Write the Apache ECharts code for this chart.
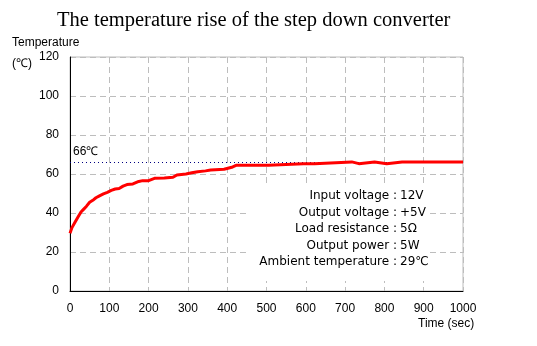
<!DOCTYPE html>
<html><head><meta charset="utf-8">
<script src="https://cdn.jsdelivr.net/npm/echarts@6/dist/echarts.min.js"></script>
<style>html,body{margin:0;padding:0;background:#fff}#c{width:537px;height:346px}</style>
</head><body><div id="c"></div>
<script>
const titleText = 'The temperature rise of the step down converter';
const yTicks = [0, 20, 40, 60, 80, 100, 120];
const xTicks = [0, 100, 200, 300, 400, 500, 600, 700, 800, 900, 1000];
const times = [0, 5, 12, 20, 28, 35, 42, 50, 58, 66, 75, 85, 95, 105, 115, 125, 135, 145, 160, 175, 185, 200, 215, 240, 262, 272, 295, 310, 325, 345, 358, 392, 414, 424, 505, 509, 594, 597, 602, 622, 627, 717, 722, 735, 740, 775, 779, 806, 810, 845, 848, 853, 965, 969, 973, 1000];
const temps = [29.6, 32.5, 35, 37.8, 40.5, 42, 43.5, 45.5, 46.5, 47.8, 48.8, 49.8, 50.6, 51.6, 52.3, 52.6, 53.8, 54.6, 54.9, 56.2, 56.6, 56.6, 57.8, 57.9, 58.3, 59.5, 60, 60.6, 61.2, 61.6, 62.1, 62.4, 63.6, 64.5, 64.5, 65.3, 65.3, 66.3, 65.3, 65.3, 66.2, 66.2, 65.3, 65.3, 66.2, 66.2, 65.3, 65.3, 66.2, 66.2, 67.1, 66.2, 66.2, 67.1, 66.2, 66.2];
const refLevel = 66;
const refLabel = '66℃';
const noteLabels = ['Input voltage :', 'Output voltage :', 'Load resistance :', 'Output power :', 'Ambient temperature :'];
const noteValues = ['12V', '+5V', '5Ω', '5W', '29℃'];

const font = 'Liberation Sans, Arial, sans-serif';
const noteFont = 'DejaVu Sans, sans-serif';
const chart = echarts.init(document.getElementById('c'), null, {renderer: 'canvas'});
const data = times.map((t, i) => [t, temps[i]]);

const graphics = [
  {type: 'text', left: 12, top: 37, style: {text: 'Temperature', font: '12px ' + font, fill: '#000'}},
  {type: 'text', left: 12, top: 58, style: {text: '(℃)', font: '12px ' + font, fill: '#000'}},
  {type: 'text', left: 418, top: 318, style: {text: 'Time (sec)', font: '12px ' + font, fill: '#000'}},
  {type: 'rect', shape: {x: 249, y: 185, width: 179, height: 96}, style: {fill: '#fff'}, z: 50}
];
noteLabels.forEach((s, i) => {
  const y = 196 + i * 16.5;
  graphics.push({type: 'text', x: 397, y: y, z: 60, style: {text: s, font: '12px ' + noteFont, fill: '#000', align: 'right', verticalAlign: 'middle'}});
  graphics.push({type: 'text', x: 400, y: y, z: 60, style: {text: noteValues[i], font: '12px ' + noteFont, fill: '#000', align: 'left', verticalAlign: 'middle'}});
});

chart.setOption({
  animation: false,
  backgroundColor: '#fff',
  title: {text: titleText, left: 57, top: 10, padding: 0, textStyle: {fontFamily: 'Liberation Serif, Times New Roman, serif', fontSize: 20.5, fontWeight: 'normal', color: '#000'}},
  grid: {left: 70, right: 74, top: 57, bottom: 55, show: true, borderColor: '#bdbdbd', borderWidth: 1},
  xAxis: {
    type: 'value', min: 0, max: 1000, interval: 100,
    axisLine: {lineStyle: {color: '#000', width: 1}},
    axisTick: {show: false},
    axisLabel: {color: '#000', fontSize: 12, fontFamily: font, margin: 12, formatter: v => xTicks.includes(v) ? String(v) : ''},
    splitLine: {show: true, lineStyle: {color: '#bdbdbd', type: [6, 4], width: 1}}
  },
  yAxis: {
    type: 'value', min: 0, max: 120, interval: 20,
    axisLine: {show: true, lineStyle: {color: '#000', width: 1}},
    axisTick: {show: false},
    axisLabel: {color: '#000', fontSize: 12, fontFamily: font, margin: 11, formatter: v => yTicks.includes(v) ? String(v) : ''},
    splitLine: {show: true, lineStyle: {color: '#bdbdbd', type: [6, 4], width: 1}}
  },
  series: [{
    type: 'line', data: data, showSymbol: false, symbol: 'none',
    lineStyle: {color: '#ff0000', width: 3}, itemStyle: {color: '#ff0000'},
    z: 10,
    markLine: {
      silent: true, symbol: ['none', 'none'],
      lineStyle: {color: '#000080', type: [1, 3], width: 1},
      label: {show: true, position: 'insideStartTop', formatter: refLabel, color: '#000', fontSize: 12, fontFamily: font, distance: [3, 5]},
      data: [{yAxis: refLevel}]
    }
  }],
  graphic: graphics
});
</script></body></html>
